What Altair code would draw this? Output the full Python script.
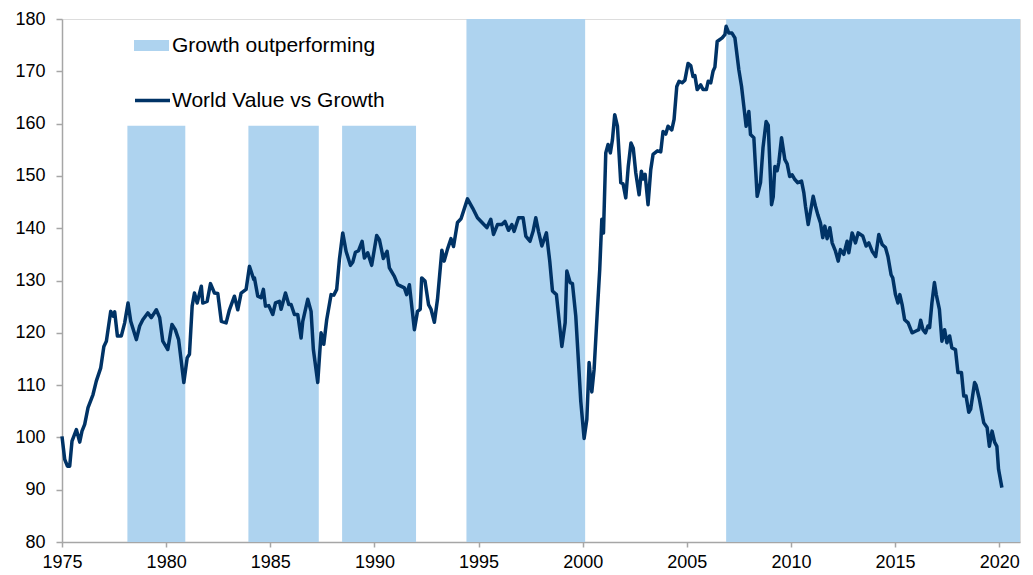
import altair as alt
import pandas as pd

# World Value vs Growth index
years = [
    1975.00, 1975.13, 1975.26, 1975.37, 1975.48, 1975.69, 1975.85, 1975.96, 1976.09, 1976.25,
    1976.49, 1976.65, 1976.86, 1977.01, 1977.13, 1977.34, 1977.45, 1977.53, 1977.66, 1977.85,
    1978.01, 1978.17, 1978.30, 1978.57, 1978.73, 1978.88, 1979.12, 1979.29, 1979.53, 1979.69,
    1979.84, 1980.08, 1980.28, 1980.44, 1980.60, 1980.85, 1981.01, 1981.12, 1981.25, 1981.36,
    1981.49, 1981.69, 1981.76, 1981.97, 1982.13, 1982.32, 1982.48, 1982.65, 1982.88, 1983.04,
    1983.28, 1983.44, 1983.60, 1983.84, 1984.00, 1984.21,
    1984.24, 1984.40, 1984.56, 1984.67, 1984.77, 1984.93, 1985.12, 1985.25, 1985.44, 1985.52,
    1985.73, 1985.89, 1986.00, 1986.16, 1986.32, 1986.48, 1986.56, 1986.80, 1986.96, 1987.07,
    1987.28, 1987.44, 1987.57, 1987.71, 1987.92, 1988.05, 1988.19, 1988.32, 1988.48, 1988.64,
    1988.85, 1988.96, 1989.09, 1989.24, 1989.41, 1989.52, 1989.68, 1989.87, 1990.11, 1990.24,
    1990.43, 1990.61, 1990.72, 1990.96, 1991.12, 1991.44, 1991.55, 1991.68, 1991.92, 1992.07,
    1992.20, 1992.27, 1992.43, 1992.60, 1992.72, 1992.88, 1993.03, 1993.24, 1993.35, 1993.51,
    1993.68, 1993.80, 1993.99, 1994.16, 1994.47, 1994.71,
    1994.95, 1995.19, 1995.40, 1995.59, 1995.72, 1995.91, 1996.12, 1996.27, 1996.44, 1996.60,
    1996.71, 1996.92, 1997.14, 1997.27, 1997.47, 1997.62, 1997.75, 1997.88, 1998.04, 1998.26,
    1998.42, 1998.55, 1998.74, 1999.00, 1999.16, 1999.24, 1999.40, 1999.51, 1999.67, 1999.91,
    2000.07, 2000.20, 2000.31, 2000.44, 2000.55, 2000.71, 2000.82, 2000.92, 2001.00, 2001.11,
    2001.22, 2001.33, 2001.43, 2001.54, 2001.67,
    2001.83, 2001.94, 2002.07, 2002.19, 2002.32, 2002.43, 2002.55, 2002.71, 2002.82, 2002.90,
    2003.00, 2003.14, 2003.27, 2003.38, 2003.59, 2003.75, 2003.86, 2003.99, 2004.10, 2004.28,
    2004.39, 2004.52, 2004.63, 2004.78, 2004.91, 2005.06, 2005.19, 2005.30, 2005.39, 2005.50,
    2005.67, 2005.78, 2005.94, 2006.03, 2006.15, 2006.26, 2006.35, 2006.46, 2006.70, 2006.83,
    2006.89, 2007.02, 2007.17, 2007.31, 2007.50, 2007.63, 2007.74, 2007.85, 2007.98, 2008.06,
    2008.22, 2008.38, 2008.54, 2008.66, 2008.81, 2008.91, 2009.07, 2009.15, 2009.23, 2009.34,
    2009.42, 2009.55, 2009.71, 2009.82, 2009.94, 2010.06, 2010.19, 2010.33, 2010.51, 2010.62,
    2010.70, 2010.83, 2010.94, 2011.07, 2011.18, 2011.29, 2011.42, 2011.53, 2011.63, 2011.74,
    2011.87, 2011.98, 2012.14, 2012.27, 2012.38, 2012.54, 2012.70, 2012.78, 2012.94, 2013.10,
    2013.23, 2013.45, 2013.61, 2013.74, 2013.90, 2014.07, 2014.22, 2014.38, 2014.54, 2014.66,
    2014.81, 2014.89, 2015.02, 2015.14, 2015.23, 2015.34, 2015.46, 2015.63, 2015.82, 2015.98,
    2016.14, 2016.23, 2016.34, 2016.46, 2016.58, 2016.66, 2016.77, 2016.89, 2016.98, 2017.13,
    2017.25, 2017.38, 2017.49, 2017.62, 2017.73, 2017.90, 2018.02, 2018.19, 2018.30, 2018.41,
    2018.54, 2018.63, 2018.82, 2018.89, 2019.05, 2019.26, 2019.42, 2019.53, 2019.66, 2019.78,
    2019.89, 2019.97, 2020.13,
]
values = [
    100.2, 95.8, 94.5, 94.5, 99.3, 101.5, 99.1, 101.2, 102.5, 105.7,
    108.2, 110.8, 113.3, 117.4, 118.4, 124.1, 123.2, 124.0, 119.4, 119.4,
    121.9, 125.7, 122.2, 118.7, 121.3, 122.5, 123.8, 122.9, 124.4, 122.9,
    118.4, 116.8, 121.6, 120.6, 118.7, 110.5, 115.2, 115.9, 125.1, 127.6,
    125.7, 128.9, 125.7, 126.0, 129.4, 127.6, 127.5, 122.2, 121.9, 124.4,
    127.0, 124.4, 127.6, 128.3, 132.7, 130.2,
    130.5, 127.0, 126.7, 128.3, 125.1, 125.2, 123.5, 125.7, 126.0, 124.5,
    127.6, 125.4, 125.4, 123.5, 123.5, 119.0, 122.2, 126.4, 124.1, 116.8,
    110.5, 120.0, 117.8, 122.5, 127.3, 127.2, 128.3, 134.0, 139.1, 135.6,
    132.9, 133.5, 135.4, 135.7, 137.5, 134.3, 135.3, 132.9, 138.6, 137.8,
    134.2, 135.6, 132.4, 130.8, 129.2, 128.6, 127.3, 129.2, 120.6, 124.1,
    124.5, 130.5, 129.9, 125.4, 124.5, 122.0, 126.4, 135.8, 133.7, 136.0,
    138.0, 136.5, 141.1, 141.8, 145.6, 143.9,
    142.0, 141.0, 140.1, 141.7, 138.8, 140.7, 140.7, 141.3, 139.6, 140.7,
    139.4, 142.0, 142.0, 138.5, 137.5, 139.4, 142.0, 139.4, 136.6, 139.1,
    133.7, 128.0, 127.3, 117.4, 121.9, 131.8, 129.6, 129.4, 123.2, 106.9,
    99.8, 103.4, 114.3, 108.7, 113.0, 124.5, 132.1, 141.7, 139.1, 154.4,
    156.0, 154.4, 156.9, 161.7, 159.5,
    148.7, 148.5, 145.8, 151.8, 156.3, 155.3, 150.6, 146.4, 150.9, 149.4,
    150.3, 144.5, 151.2, 154.1, 154.8, 154.6, 158.5, 158.0, 159.5, 158.8,
    160.8, 167.1, 168.1, 167.8, 168.3, 171.5, 171.1, 169.0, 169.2, 166.5,
    167.4, 166.5, 166.5, 168.1, 167.8, 170.0, 170.8, 175.7, 176.4, 177.0,
    178.6, 177.3, 177.3, 176.4, 170.3, 167.1, 163.3, 159.5, 162.3, 157.9,
    157.3, 146.1, 148.7, 155.4, 160.4, 159.7, 144.5, 146.0, 151.8, 151.0,
    152.6, 157.3, 153.1, 152.3, 149.9, 150.2, 149.3, 148.7, 149.0, 146.8,
    144.2, 140.7, 143.2, 146.1, 144.2, 142.6, 141.0, 138.2, 140.4, 138.0,
    140.1, 137.2, 135.6, 133.7, 135.9, 135.0, 137.5, 135.3, 139.1, 137.2,
    139.1, 138.5, 136.6, 137.2, 135.6, 134.6, 138.8, 136.9, 136.3, 134.6,
    131.1, 130.5, 127.3, 125.7, 127.3, 125.4, 122.5, 121.9, 120.0, 120.3,
    120.6, 122.4, 120.6, 120.0, 121.3, 121.0, 125.7, 129.6, 127.3, 124.5,
    118.4, 120.6, 118.1, 119.4, 117.1, 116.8, 112.4, 112.4, 107.9, 107.9,
    104.8, 105.4, 110.5, 110.0, 107.3, 102.8, 101.9, 98.3, 101.2, 99.1,
    98.3, 93.9, 90.4,
]

# Periods of growth outperforming (shaded)
period_start = [1978.14, 1983.95, 1988.45, 1994.42, 2006.89]
period_end = [1980.92, 1987.33, 1992.00, 2000.12, 2021.00]
period_top = [159.6, 159.6, 159.6, 180.0, 180.0]

x_ticks = [1975, 1980, 1985, 1990, 1995, 2000, 2005, 2010, 2015, 2020]
y_ticks = [80, 90, 100, 110, 120, 130, 140, 150, 160, 170, 180]

line_df = pd.DataFrame({"year": years, "value": values,
                        "series": "World Value vs Growth"})
shade_df = pd.DataFrame({"start": period_start, "end": period_end,
                         "top": period_top, "bottom": 80,
                         "label": "Growth outperforming"})

FONT = "Liberation Sans"
GREY = "#a6a6a6"

x_scale = alt.Scale(domain=[1975, 2021], nice=False, zero=False)
y_scale = alt.Scale(domain=[80, 180], nice=False, zero=False)

x_axis = alt.Axis(values=x_ticks, format="d", grid=False, labelFontSize=18,
                  labelFont=FONT, labelColor="black", labelFlush=False,
                  tickSize=5, tickColor=GREY, domainColor=GREY, domainWidth=1.5,
                  tickWidth=1.5, labelPadding=6, title=None, labelOverlap=False)
y_axis = alt.Axis(values=y_ticks, grid=False, labelFontSize=18, labelFont=FONT,
                  labelColor="black", tickSize=6, tickColor=GREY, domainColor=GREY,
                  domainWidth=1.5, tickWidth=1.5, labelPadding=11, title=None)

shade = alt.Chart(shade_df).mark_rect(opacity=1).encode(
    x=alt.X("start:Q", scale=x_scale, axis=x_axis),
    x2="end:Q",
    y=alt.Y("top:Q", scale=y_scale, axis=y_axis),
    y2="bottom:Q",
    fill=alt.Fill("label:N",
                  scale=alt.Scale(domain=["Growth outperforming"], range=["#aed3ef"]),
                  legend=alt.Legend(title=None, orient="none", legendX=72, legendY=9,
                                    symbolType="M-1,-0.314H1V0.314H-1Z",
                                    symbolSize=1225, symbolStrokeWidth=0,
                                    labelFontSize=21, labelFont=FONT, labelLimit=0,
                                    labelColor="black", labelOffset=3, padding=0)),
)

line = alt.Chart(line_df).mark_line(strokeWidth=3.5, strokeJoin="round").encode(
    x=alt.X("year:Q", scale=x_scale, axis=x_axis),
    y=alt.Y("value:Q", scale=y_scale, axis=y_axis),
    stroke=alt.Stroke("series:N",
                      scale=alt.Scale(domain=["World Value vs Growth"], range=["#003366"]),
                      legend=alt.Legend(title=None, orient="none", legendX=71, legendY=62,
                                        symbolType="stroke", symbolSize=1225,
                                        symbolStrokeWidth=3.5, labelLimit=0,
                                        labelFontSize=21, labelFont=FONT,
                                        labelColor="black", labelOffset=0, padding=0)),
)

chart = alt.layer(shade, line).resolve_scale(fill="independent", stroke="independent").properties(
    width=958, height=523,
    autosize=alt.AutoSizeParams(type="none"),
    padding={"left": 54, "top": 11, "right": 4, "bottom": 30},
).configure_view(stroke=None).configure(font=FONT)

chart.save("out.html", embed_options={"renderer": "svg", "actions": False})
